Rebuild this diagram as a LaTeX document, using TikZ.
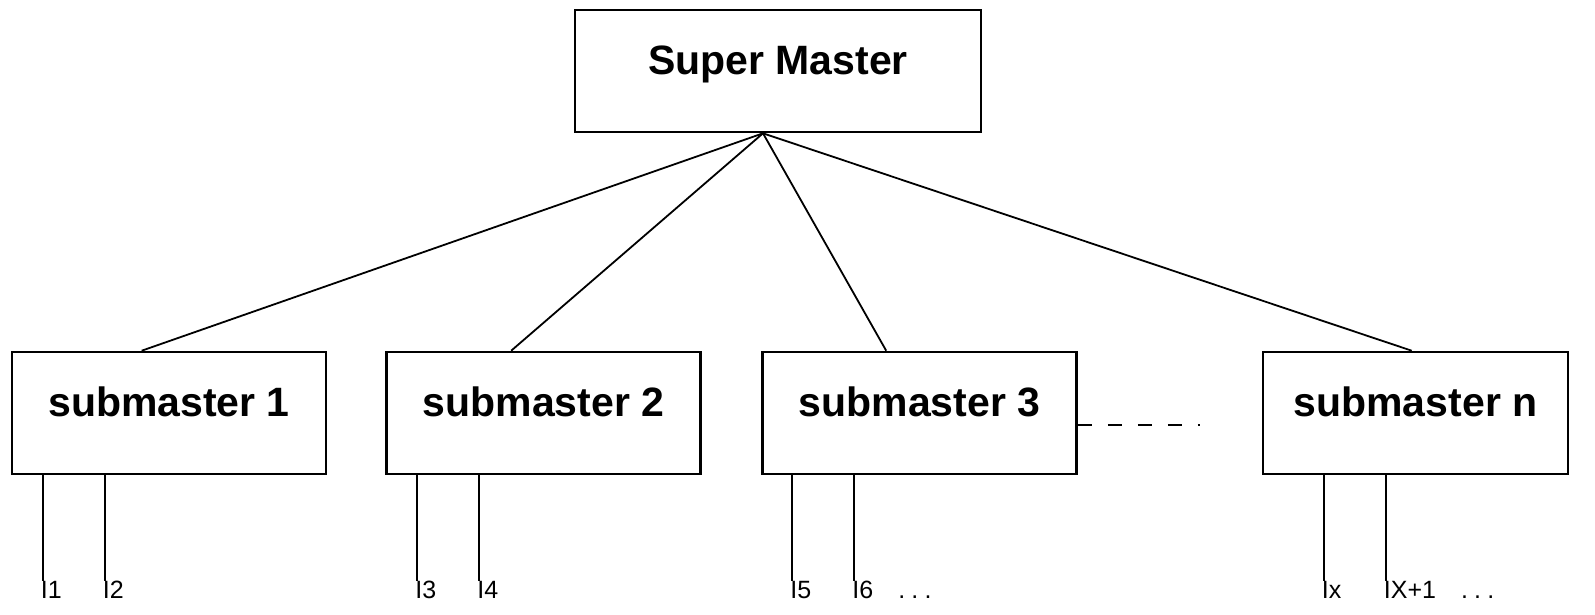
\documentclass[tikz,border=0pt]{standalone}
\usepackage{fontspec}
\setmainfont{Liberation Sans}
\usetikzlibrary{calc}
\newcommand{\mydots}{.\kern0.25em.\kern0.25em.}
\begin{document}
\begin{tikzpicture}[x=1pt,y=-1pt,
  box/.style={draw,line width=2.6pt,minimum width=#1,minimum height=122pt,inner sep=0pt,
    font=\fontsize{41}{41}\bfseries\selectfont,text height=0.72em,text depth=0pt},
  box/.default=314pt,
  link/.style={line width=1.8pt},
  leg/.style={line width=2.4pt},
  lab/.style={anchor=north west,inner sep=0pt,font=\fontsize{25}{25}\selectfont,xshift=-2pt}]
\useasboundingbox (0,0) rectangle (1595,614);
\node[box=406pt] (sm) at (778,71) {Super Master};
\node[box] (s1) at (169,413) {submaster 1};
\node[box] (s2) at (543.5,413) {submaster 2};
\node[box] (s3) at (919.5,413) {submaster 3};
\node[box=305pt] (sn) at (1415.5,413) {submaster n};
\coordinate (apex) at ($(sm.south)+(-15,0)$);
\draw[link] (apex) -- ($(s1.north west)+(131,0)$);
\draw[link] (apex) -- ($(s2.north west)+(126,0)$);
\draw[link] (apex) -- ($(s3.north west)+(125,0)$);
\draw[link] (apex) -- ($(sn.north west)+(150,0)$);
\coordinate (d1) at ($(s3.east)+(0,12)$);
\coordinate (d2) at (1200,425);
\draw[line width=2pt,dash pattern=on 14pt off 16pt] (d1) -- (d2);
% legs and labels
\foreach \b/\xa/\xb/\la/\lb in {s1/32/94/{I1}/{I2}, s2/32/94/{I3}/{I4}, s3/31/93/{I5}/{I6\quad\mydots}, sn/62/124/{Ix}/{IX+1\quad\mydots}}{
  \coordinate (\b a) at ($(\b.south west)+(\xa,0)$);
  \coordinate (\b b) at ($(\b.south west)+(\xb,0)$);
  \coordinate (\b ae) at ($(\b a)+(0,106)$);
  \coordinate (\b be) at ($(\b b)+(0,106)$);
  \draw[leg] (\b a) -- (\b ae);
  \draw[leg] (\b b) -- (\b be);
  \node[lab] (\b la) at (\b ae) {\la};
  \node[lab] (\b lb) at (\b be) {\lb};
}
\end{tikzpicture}
\end{document}
